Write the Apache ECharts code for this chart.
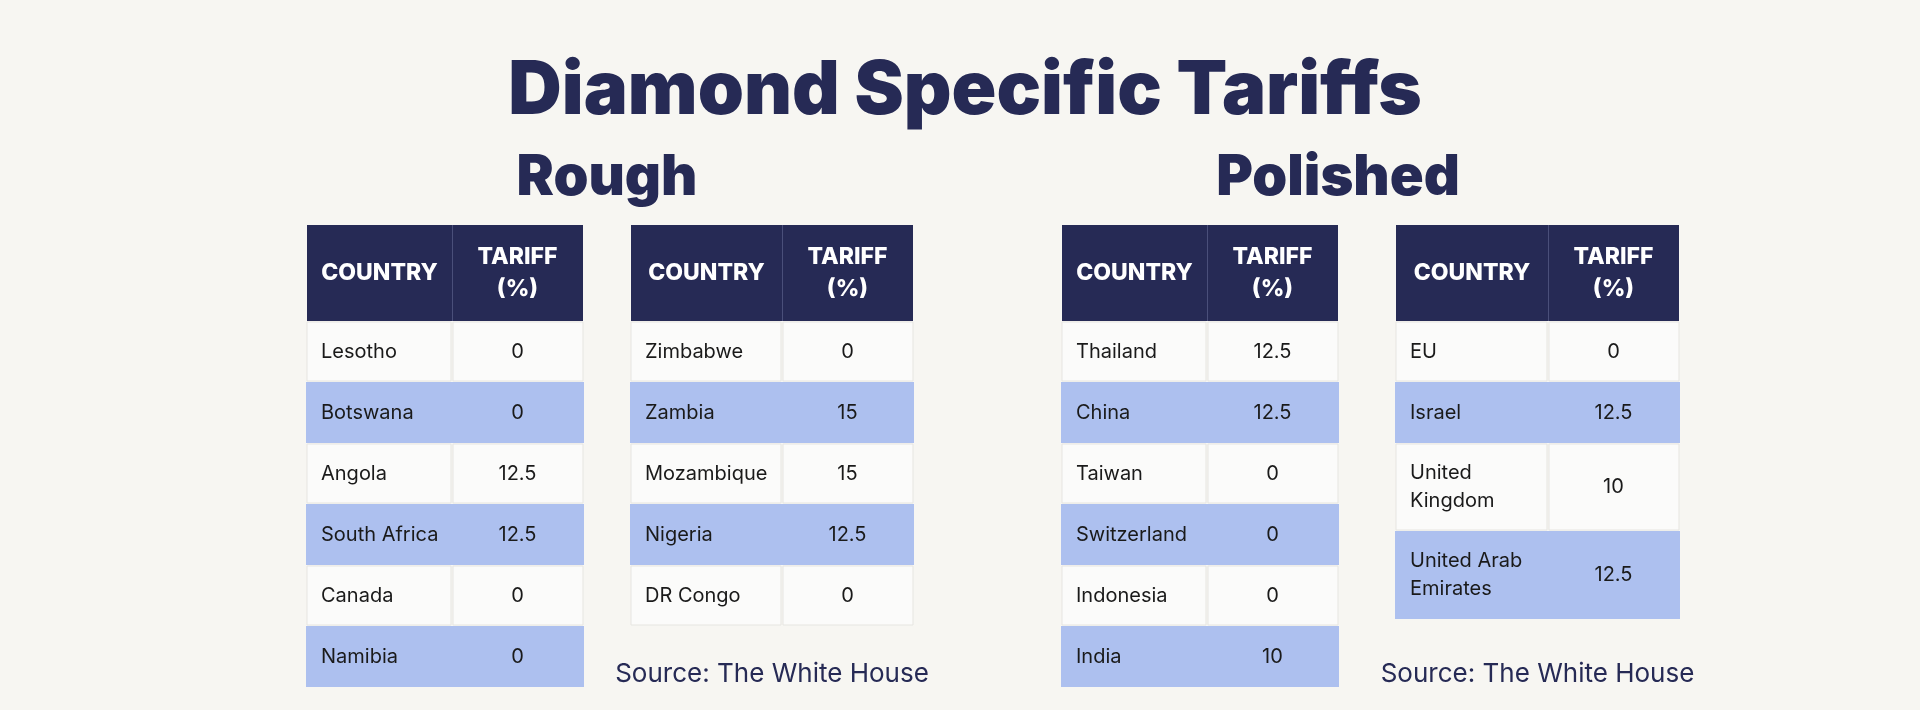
<!DOCTYPE html>
<html><head><meta charset="utf-8">
<script src="https://cdn.jsdelivr.net/npm/echarts@6/dist/echarts.min.js"></script>
<style>html,body{margin:0;background:#f7f6f2}#c{width:1920px;height:710px}</style>
</head><body><div id="c"></div>
<script>
const title = 'Diamond Specific Tariffs';
const groupTitles = ['Rough', 'Polished'];
const headers = ['COUNTRY', 'TARIFF\n(%)'];
const source = 'Source: The White House';
const roughA = ['Lesotho','Botswana','Angola','South Africa','Canada','Namibia'];
const roughAVal = ['0','0','12.5','12.5','0','0'];
const roughB = ['Zimbabwe','Zambia','Mozambique','Nigeria','DR Congo'];
const roughBVal = ['0','15','15','12.5','0'];
const polA = ['Thailand','China','Taiwan','Switzerland','Indonesia','India'];
const polAVal = ['12.5','12.5','0','0','0','10'];
const polB = ['EU','Israel','United\nKingdom','United Arab\nEmirates'];
const polBVal = ['0','12.5','10','12.5'];

const NAVY = '#262a55', BLUE = '#adc0ef', BG = '#f7f6f2';
const tables = [
  {names: roughA, vals: roughAVal, x: 307, w: 276, split: 145, src: false},
  {names: roughB, vals: roughBVal, x: 631, w: 282, split: 151, src: true},
  {names: polA, vals: polAVal, x: 1062, w: 276, split: 145, src: false},
  {names: polB, vals: polBVal, x: 1396, w: 283, split: 152, src: true}
];
const g = [];
const F = 'Inter, "Noto Sans", sans-serif';
g.push({type:'text', style:{text:title, x:965, y:92, align:'center', verticalAlign:'middle', font:'900 74px '+F, fill:NAVY}});
g.push({type:'text', style:{text:groupTitles[0], x:607, y:178, align:'center', verticalAlign:'middle', font:'900 56px '+F, fill:NAVY}});
g.push({type:'text', style:{text:groupTitles[1], x:1338, y:178, align:'center', verticalAlign:'middle', font:'900 56px '+F, fill:NAVY}});
tables.forEach(t => {
  const top = 225, hh = 96, rh = 61, rh2 = 88;
  g.push({type:'rect', shape:{x:t.x, y:top, width:t.w, height:hh}, style:{fill:NAVY}});
  g.push({type:'rect', shape:{x:t.x+t.split, y:top, width:1, height:hh}, style:{fill:'#4a4f7a'}});
  g.push({type:'text', style:{text:headers[0], x:t.x+t.split/2, y:top+hh/2, align:'center', verticalAlign:'middle', font:'800 23px '+F, fill:'#fff'}});
  g.push({type:'text', style:{text:headers[1], x:t.x+t.split+(t.w-t.split)/2, y:top+hh/2, align:'center', verticalAlign:'middle', font:'800 23px '+F, fill:'#fff', lineHeight:32}});
  let y = top+hh;
  t.names.forEach((n, i) => {
    const h = n.includes('\n') ? rh2 : rh;
    const fill = i%2 ? BLUE : '#fbfbfa';
    if (i%2) {
      g.push({type:'rect', shape:{x:t.x-1, y:y, width:t.w+2, height:h}, style:{fill}});
    } else {
      g.push({type:'rect', shape:{x:t.x, y:y+1, width:t.split-1, height:h-2}, style:{fill, stroke:'#e6e5e1', lineWidth:1}});
      g.push({type:'rect', shape:{x:t.x+t.split+1, y:y+1, width:t.w-t.split-1, height:h-2}, style:{fill, stroke:'#e6e5e1', lineWidth:1}});
    }
    g.push({type:'text', style:{text:n, x:t.x+14, y:y+h/2, verticalAlign:'middle', font:'400 20px '+F, fill:'#1a1a1a', lineHeight:28}});
    g.push({type:'text', style:{text:t.vals[i], x:t.x+t.split+(t.w-t.split)/2, y:y+h/2, align:'center', verticalAlign:'middle', font:'400 20px '+F, fill:'#1a1a1a'}});
    y += h;
  });
  if (t.src) g.push({type:'text', style:{text:source, x:t.x+t.w/2, y:674, align:'center', verticalAlign:'middle', font:'400 26px '+F, fill:NAVY}});
});
const chart = echarts.init(document.getElementById('c'));
chart.setOption({backgroundColor:BG, graphic:g});
</script></body></html>
